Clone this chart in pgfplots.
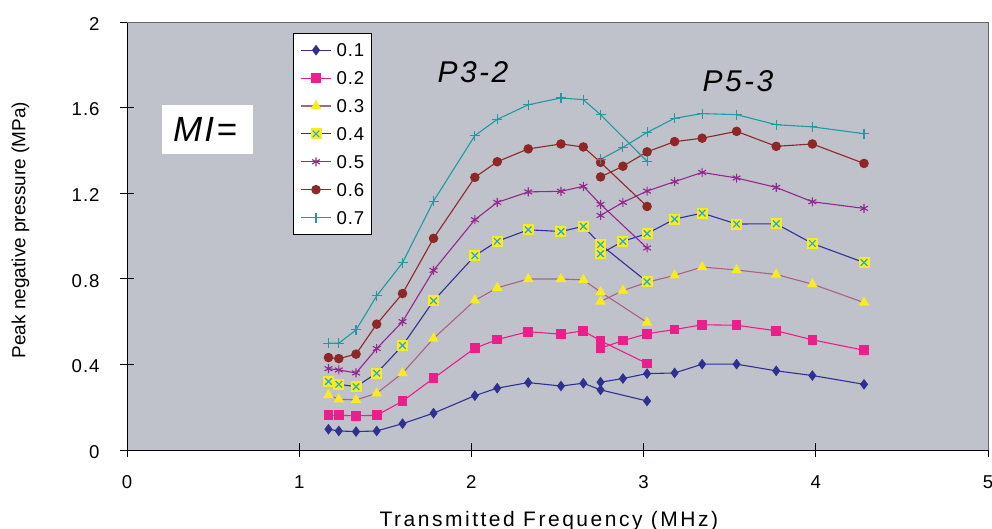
\documentclass[border=0pt]{standalone}
\usepackage{fontspec}
\setmainfont{Liberation Sans}
\usepackage{pgfplots}
\pgfplotsset{compat=1.18}

\definecolor{bggrey}{RGB}{192,194,203}
\definecolor{c1}{RGB}{46,49,146}
\definecolor{c2}{RGB}{236,30,140}
\definecolor{c3}{RGB}{170,100,130}
\definecolor{c3m}{RGB}{250,235,30}
\definecolor{c4}{RGB}{50,50,150}
\definecolor{c5}{RGB}{147,39,143}
\definecolor{c6}{RGB}{142,40,40}
\definecolor{c7}{RGB}{30,155,160}
\definecolor{xcyan}{RGB}{30,170,220}

% yellow square with a cyan cross (MI = 0.4)
\pgfdeclareplotmark{sqx}{%
  \pgfpathrectangle{\pgfqpoint{-\pgfplotmarksize}{-\pgfplotmarksize}}{\pgfqpoint{2\pgfplotmarksize}{2\pgfplotmarksize}}%
  \pgfsetfillcolor{c3m}\pgfusepathqfill
  \pgfsetstrokecolor{xcyan}\pgfsetlinewidth{1.2pt}%
  \pgfpathmoveto{\pgfqpoint{-0.6\pgfplotmarksize}{-0.6\pgfplotmarksize}}%
  \pgfpathlineto{\pgfqpoint{0.6\pgfplotmarksize}{0.6\pgfplotmarksize}}%
  \pgfpathmoveto{\pgfqpoint{-0.6\pgfplotmarksize}{0.6\pgfplotmarksize}}%
  \pgfpathlineto{\pgfqpoint{0.6\pgfplotmarksize}{-0.6\pgfplotmarksize}}%
  \pgfusepathqstroke}

\begin{document}
\begin{tikzpicture}
\begin{axis}[
    scale only axis,
    width=861pt, height=428pt,
    xmin=0, xmax=5, ymin=0, ymax=2,
    xtick={0,1,2,3,4,5},
    ytick={0,0.4,0.8,1.2,1.6,2},
    axis x line*=bottom, axis y line*=left,
    axis line style={black, line width=0.8pt, -},
    axis background/.style={fill=bggrey},
    tick align=center, major tick length=14pt,
    tick style={black, line width=0.8pt},
    /pgf/number format/assume math mode=true,
    ticklabel style={font=\fontsize{18.6}{22}\selectfont\addfontfeature{LetterSpace=5}},
    yticklabel style={xshift=-17pt, yshift=-2pt},
    xticklabel style={yshift=-15pt},
    xlabel={Transmitted Frequency (MHz)},
    ylabel={Peak negative pressure (MPa)},
    every axis x label/.style={at={(axis description cs:0.49,-0.178)}, anchor=base,
        font=\fontsize{21}{25}\selectfont\addfontfeature{LetterSpace=12}},
    every axis y label/.style={at={(axis description cs:-0.118,0.514)}, anchor=base, rotate=90,
        font=\fontsize{19}{23}\selectfont},
    every axis plot/.append style={line width=1.1pt, mark options={solid}},
    legend image code/.code={\draw[mark repeat=2,mark phase=2] plot coordinates {(0pt,0pt) (15pt,0pt) (30pt,0pt)};},
    legend style={at={(rel axis cs:0.193,0.974)}, anchor=north west, draw=black, fill=white,
        line width=0.6pt, font=\fontsize{18.6}{22}\selectfont\addfontfeature{LetterSpace=5},
        inner xsep=7pt, inner ysep=10pt, row sep=14.4pt, column sep=5pt,
        nodes={inner sep=0pt, text height=13.5pt, text depth=0pt}},
    legend cell align=left,
    after end axis/.code={
        \draw[gray!80!black, line width=0.6pt] (rel axis cs:0,1) -- (rel axis cs:1,1) -- (rel axis cs:1,0);
    },
]

% MI = 0.1
\addplot[c1, mark=diamond*, mark size=4.5pt] coordinates {
 (1.17,0.097)(1.23,0.089)(1.33,0.086)(1.45,0.089)(1.60,0.123)(1.78,0.172)(2.02,0.254)
 (2.15,0.289)(2.33,0.315)(2.52,0.299)(2.65,0.312)(2.75,0.281)(3.02,0.229)};
\addlegendentry{0.1}
\addplot[c1, mark=diamond*, mark size=4.5pt, forget plot] coordinates {
 (2.75,0.317)(2.88,0.334)(3.02,0.357)(3.18,0.360)(3.34,0.401)(3.54,0.401)(3.77,0.370)(3.98,0.348)(4.28,0.307)};

% MI = 0.2
\addplot[c2, mark=square*, mark size=4.3pt] coordinates {
 (1.17,0.162)(1.23,0.162)(1.33,0.160)(1.45,0.162)(1.60,0.228)(1.78,0.335)(2.02,0.476)
 (2.15,0.516)(2.33,0.553)(2.52,0.541)(2.65,0.557)(2.75,0.510)(3.02,0.404)};
\addlegendentry{0.2}
\addplot[c2, mark=square*, mark size=4.3pt, forget plot] coordinates {
 (2.75,0.476)(2.88,0.511)(3.02,0.543)(3.18,0.563)(3.34,0.585)(3.54,0.583)(3.77,0.557)(3.98,0.515)(4.28,0.466)};

% MI = 0.3
\addplot[c3, mark=triangle*, mark size=5pt, mark options={fill=c3m, draw=c3m}] coordinates {
 (1.17,0.257)(1.23,0.237)(1.33,0.234)(1.45,0.265)(1.60,0.359)(1.78,0.521)(2.02,0.699)
 (2.15,0.758)(2.33,0.799)(2.52,0.799)(2.65,0.795)(2.75,0.738)(3.02,0.596)};
\addlegendentry{0.3}
\addplot[c3, mark=triangle*, mark size=5pt, mark options={fill=c3m, draw=c3m}, forget plot] coordinates {
 (2.75,0.694)(2.88,0.745)(3.02,0.784)(3.18,0.816)(3.34,0.855)(3.54,0.841)(3.77,0.820)(3.98,0.775)(4.28,0.689)};

% MI = 0.4
\addplot[c4, mark=sqx, mark size=5.5pt] coordinates {
 (1.17,0.320)(1.23,0.307)(1.33,0.296)(1.45,0.359)(1.60,0.488)(1.78,0.697)(2.02,0.908)
 (2.15,0.975)(2.33,1.029)(2.52,1.021)(2.65,1.045)(2.75,0.960)(3.02,0.786)};
\addlegendentry{0.4}
\addplot[c4, mark=sqx, mark size=5.5pt, forget plot] coordinates {
 (2.75,0.917)(2.88,0.975)(3.02,1.011)(3.18,1.079)(3.34,1.107)(3.54,1.056)(3.77,1.057)(3.98,0.965)(4.28,0.876)};

% MI = 0.5
\addplot[c5, mark=asterisk, mark size=4.5pt] coordinates {
 (1.17,0.380)(1.23,0.374)(1.33,0.360)(1.45,0.474)(1.60,0.600)(1.78,0.839)(2.02,1.076)
 (2.15,1.157)(2.33,1.206)(2.52,1.209)(2.65,1.232)(2.75,1.148)(3.02,0.944)};
\addlegendentry{0.5}
\addplot[c5, mark=asterisk, mark size=4.5pt, forget plot] coordinates {
 (2.75,1.096)(2.88,1.157)(3.02,1.210)(3.18,1.254)(3.34,1.297)(3.54,1.271)(3.77,1.227)(3.98,1.160)(4.28,1.129)};

% MI = 0.6
\addplot[c6, mark=*, mark size=4.2pt] coordinates {
 (1.17,0.432)(1.23,0.427)(1.33,0.448)(1.45,0.588)(1.60,0.731)(1.78,0.989)(2.02,1.274)
 (2.15,1.347)(2.33,1.407)(2.52,1.430)(2.65,1.416)(2.75,1.344)(3.02,1.138)};
\addlegendentry{0.6}
\addplot[c6, mark=*, mark size=4.2pt, forget plot] coordinates {
 (2.75,1.276)(2.88,1.326)(3.02,1.393)(3.18,1.441)(3.34,1.457)(3.54,1.489)(3.77,1.419)(3.98,1.430)(4.28,1.339)};

% MI = 0.7
\addplot[c7, mark=+, mark size=5pt] coordinates {
 (1.17,0.499)(1.23,0.499)(1.33,0.561)(1.45,0.720)(1.60,0.875)(1.78,1.163)(2.02,1.469)
 (2.15,1.545)(2.33,1.613)(2.52,1.645)(2.65,1.637)(2.75,1.567)(3.02,1.349)};
\addlegendentry{0.7}
\addplot[c7, mark=+, mark size=5pt, forget plot] coordinates {
 (2.75,1.358)(2.88,1.414)(3.02,1.484)(3.18,1.550)(3.34,1.572)(3.54,1.567)(3.77,1.520)(3.98,1.510)(4.28,1.478)};

\node[font=\fontsize{30}{36}\selectfont\itshape\addfontfeature{LetterSpace=8}] at (axis cs:2.009,1.764) {P3-2};
\node[font=\fontsize{30}{36}\selectfont\itshape\addfontfeature{LetterSpace=8}] at (axis cs:3.548,1.725) {P5-3};
\node[fill=white, inner sep=0pt, minimum width=91pt, minimum height=49pt] at (axis cs:0.4657,1.4977) {};
\node[anchor=west, inner sep=0pt, font=\fontsize{35}{40}\selectfont\itshape\addfontfeature{LetterSpace=6}] at (axis cs:0.267,1.4977) {MI=};
\end{axis}
\pgfresetboundingbox
\useasboundingbox (-127pt,-79pt) rectangle (865pt,450pt);
\end{tikzpicture}
\end{document}
